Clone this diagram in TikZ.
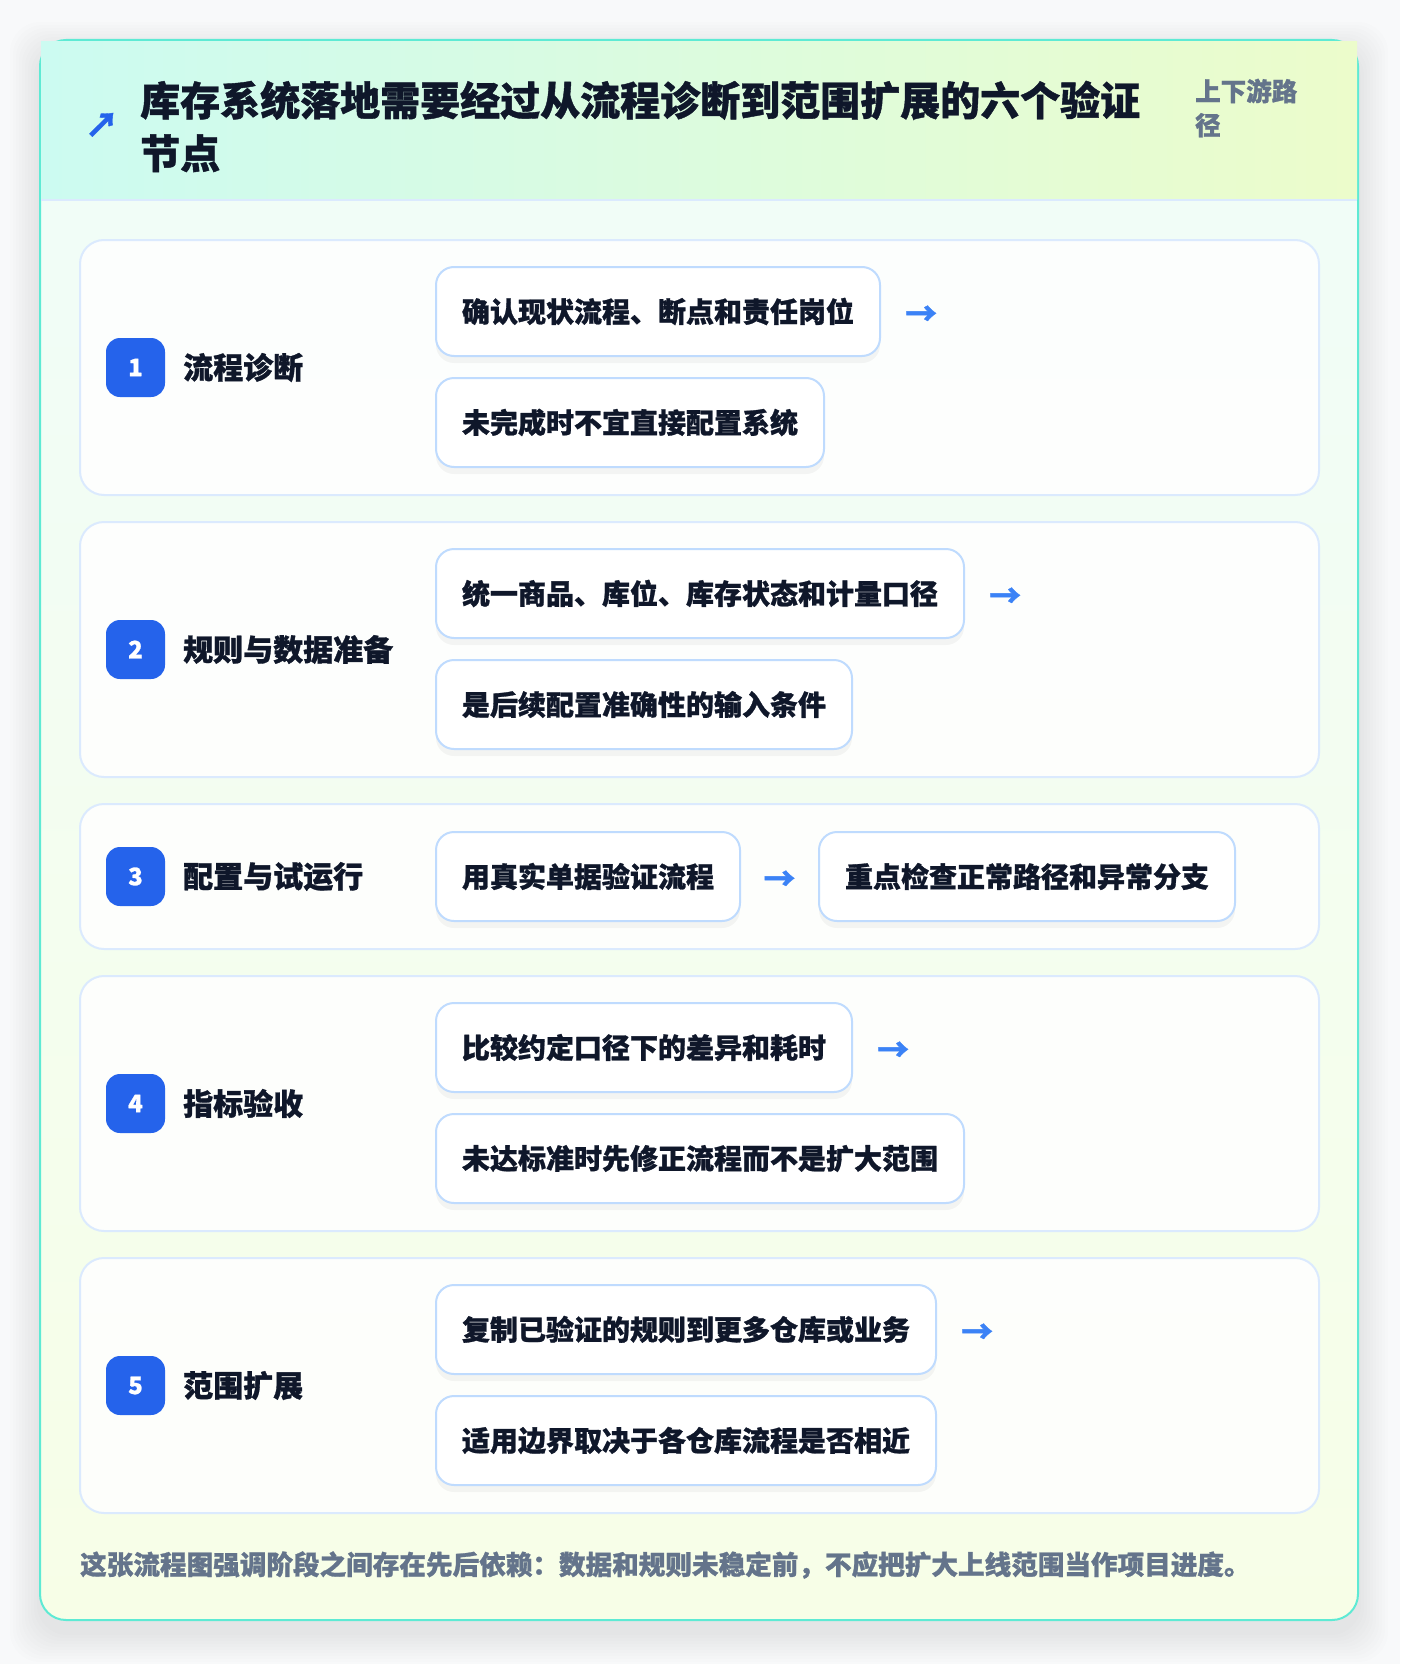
\documentclass[tikz,border=0pt]{standalone}
\usepackage{fontspec}
\setmainfont{Noto Sans CJK SC}[BoldFeatures={FakeBold=1}]
\usepackage{tikz}
\usetikzlibrary{positioning,calc,shadows}

\definecolor{pagebg}{HTML}{F8F9FA}
\definecolor{cardline}{HTML}{5EEAD4}
\definecolor{headleft}{HTML}{CCFBF1}
\definecolor{headright}{HTML}{ECFCCB}
\definecolor{bodytop}{HTML}{F0FDF9}
\definecolor{bodybot}{HTML}{F7FEE7}
\definecolor{panelline}{HTML}{DBEAFE}
\definecolor{boxline}{HTML}{BFDBFE}
\definecolor{badge}{HTML}{2563EB}
\definecolor{ink}{HTML}{0F172A}
\definecolor{muted}{HTML}{64748B}
\definecolor{arrowblue}{HTML}{3B82F6}

\tikzset{
	panel/.style={draw=panelline, line width=2pt, fill=white, fill opacity=0.85, draw opacity=1, rounded corners=24pt},
	badgebox/.style={fill=badge, rounded corners=14pt, minimum width=59pt, minimum height=59pt, inner sep=0pt, text=white, font=\fontsize{24}{28}\selectfont\bfseries},
	stagetxt/.style={anchor=west, inner sep=0pt, text=ink, font=\fontsize{30}{36}\selectfont\bfseries},
	stepbox/.style={anchor=west, draw=boxline, line width=2pt, fill=white, rounded corners=18pt, minimum height=89pt, inner xsep=26pt, text=ink, font=\fontsize{28}{34}\selectfont\bfseries,
		drop shadow={shadow xshift=0pt, shadow yshift=-7pt, fill=black, opacity=0.04}},
	arrowtxt/.style={inner sep=0pt, text=arrowblue, yshift=-4pt, font=\fontsize{32}{34}\selectfont\bfseries}
}

\begin{document}
\begin{tikzpicture}[x=1pt, y=-1pt]
	\useasboundingbox (0,0) rectangle (1400,1664);
	\fill[pagebg] (0,0) rectangle (1400,1664);
	% card shadow
	\foreach \g in {3,6,...,30} {
		\fill[black, opacity=0.006, rounded corners=30pt] (40-\g,40-\g+12) rectangle (1358+\g,1620+\g+12);
	}
	% card
	\fill[rounded corners=26pt, top color=bodytop, bottom color=bodybot] (40,40) rectangle (1358,1620);
	\draw[cardline, line width=2pt, rounded corners=26pt] (40,40) rectangle (1358,1620);
	\fill[left color=headleft, right color=headright] (41,42) rectangle (1357,200);
	\draw[panelline, line width=2pt] (41,200) -- (1357,200);
	\node (icon) at (102,125) [text=badge, font=\fontsize{34}{36}\selectfont\bfseries] {↗};
	\node (title) at (140,126.5) [anchor=west, inner sep=0pt, align=left, text=ink, font=\fontsize{40}{53}\selectfont\bfseries] {库存系统落地需要经过从流程诊断到范围扩展的六个验证\\节点};
	\node (sub) at (1195,108) [anchor=west, inner sep=0pt, align=left, text=muted, font=\fontsize{25.5}{34}\selectfont\bfseries] {上下游路\\径};

	% stage 1
	\draw[panel] (80,240) rectangle (1319,495);
	\node[badgebox] (1) at (135.5,367.5) {1};
	\node[stagetxt] (1s) at (183,367.5) {流程诊断};
	\node[stepbox] (1a) at (435,311.5) {确认现状流程、断点和责任岗位};
	\node[stepbox] (1b) at (435,422.5) {未完成时不宜直接配置系统};
	\node[arrowtxt] (1r) [right=24pt of 1a] {→};

	% stage 2
	\draw[panel] (80,522) rectangle (1319,777);
	\node[badgebox] (2) at (135.5,649.5) {2};
	\node[stagetxt] (2s) at (183,649.5) {规则与数据准备};
	\node[stepbox] (2a) at (435,593.5) {统一商品、库位、库存状态和计量口径};
	\node[stepbox] (2b) at (435,704.5) {是后续配置准确性的输入条件};
	\node[arrowtxt] (2r) [right=24pt of 2a] {→};

	% stage 3
	\draw[panel] (80,804) rectangle (1319,949);
	\node[badgebox] (3) at (135.5,876.5) {3};
	\node[stagetxt] (3s) at (183,876.5) {配置与试运行};
	\node[stepbox] (3a) at (435,876.5) {用真实单据验证流程};
	\node[stepbox] (3b) [right=77pt of 3a] {重点检查正常路径和异常分支};
	\node[arrowtxt] (3r) at ($(3a.east)!0.5!(3b.west)$) {→};

	% stage 4
	\draw[panel] (80,976) rectangle (1319,1231);
	\node[badgebox] (4) at (135.5,1103.5) {4};
	\node[stagetxt] (4s) at (183,1103.5) {指标验收};
	\node[stepbox] (4a) at (435,1047.5) {比较约定口径下的差异和耗时};
	\node[stepbox] (4b) at (435,1158.5) {未达标准时先修正流程而不是扩大范围};
	\node[arrowtxt] (4r) [right=24pt of 4a] {→};

	% stage 5
	\draw[panel] (80,1258) rectangle (1319,1513);
	\node[badgebox] (5) at (135.5,1385.5) {5};
	\node[stagetxt] (5s) at (183,1385.5) {范围扩展};
	\node[stepbox] (5a) at (435,1329.5) {复制已验证的规则到更多仓库或业务};
	\node[stepbox] (5b) at (435,1440.5) {适用边界取决于各仓库流程是否相近};
	\node[arrowtxt] (5r) [right=24pt of 5a] {→};

	% footer
	\node (note) at (80,1565) [anchor=west, inner sep=0pt, text=muted, font=\fontsize{26.6}{30}\selectfont\bfseries] {这张流程图强调阶段之间存在先后依赖：数据和规则未稳定前，不应把扩大上线范围当作项目进度。};
\end{tikzpicture}
\end{document}
